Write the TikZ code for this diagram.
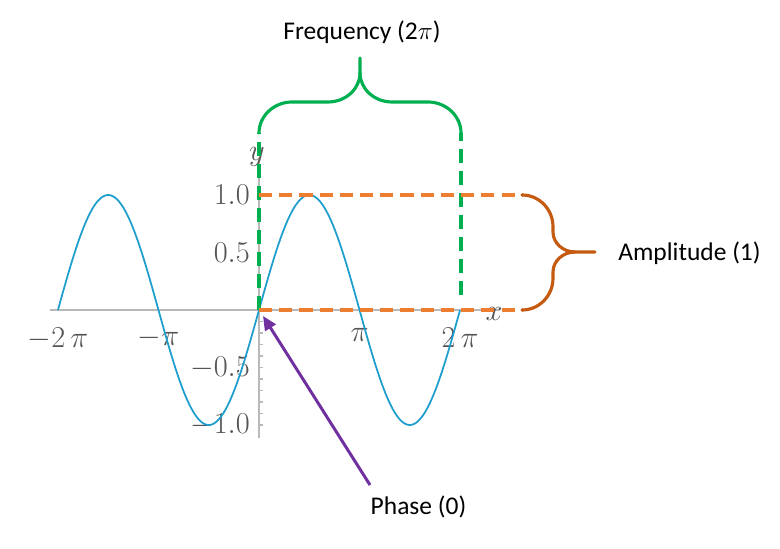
\documentclass[tikz,border=0pt]{standalone}
\usepackage{amssymb,amsmath}
\usepackage{fontspec}
\newfontfamily\callout{Carlito}
\usepackage{tikz}
\usetikzlibrary{arrows.meta}
\definecolor{sineblue}{RGB}{30,158,205}
\definecolor{freqgreen}{RGB}{0,176,80}
\definecolor{ampdash}{RGB}{237,125,49}
\definecolor{ampbrace}{RGB}{197,90,17}
\definecolor{phasepurple}{RGB}{112,48,160}
\definecolor{axisgray}{RGB}{185,185,185}
\definecolor{ticktext}{RGB}{85,85,85}
\tikzset{axisline/.style={axisgray, line width=1.1pt},
  ticklbl/.style={ticktext, font=\fontsize{16}{18}\selectfont, inner sep=1pt},
  callouttext/.style={font=\callout\fontsize{14.5}{17}\selectfont},
  freqline/.style={freqgreen, line width=2pt, dash pattern=on 8pt off 4.5pt},
  ampline/.style={ampdash, line width=1.8pt, dash pattern=on 7.5pt off 4pt},
  bracestyle/.style={line width=1.8pt, line cap=round}}

\begin{document}
\begin{tikzpicture}
\useasboundingbox (-5.18,-4.78) rectangle (10.42,6.2);
% axes
\coordinate (O) at (0,0);
\draw[axisline] (-4.18,0)--(4.82,0);
\draw[axisline] (0,-2.56)--(0,3.0);
\foreach \t in {-2.3,-2.07,...,-0.2} \draw[axisgray, line width=0.6pt] (0,\t)--(0.07,\t);
\node[ticklbl, anchor=east] at (-0.14,2.3) {$1.0$};
\node[ticklbl, anchor=east] at (-0.14,1.15) {$0.5$};
\node[ticklbl, anchor=east] at (-0.14,-1.15) {$-0.5$};
\node[ticklbl, anchor=east] at (-0.14,-2.3) {$-1.0$};
\node[ticklbl, anchor=north] at (-4.02,-0.32) {$-2\,\pi$};
\node[ticklbl, anchor=north] at (-2.01,-0.32) {$-\pi$};
\node[ticklbl, anchor=north] at (2.01,-0.32) {$\pi$};
\node[ticklbl, anchor=north] at (4.02,-0.32) {$2\,\pi$};
\node[ticklbl] (ylbl) at (-0.04,3.06) {$y$};
\node[ticklbl] (xlbl) at (4.7,-0.08) {$x$};
% sine
\draw[sineblue, line width=1pt] plot[domain=-2*pi:2*pi, samples=200] ({0.64*\x},{2.3*sin(\x r)});
% frequency
\coordinate (f1) at (0,3.54);
\coordinate (f2) at (4.04,3.54);
\draw[freqline] (O)--(f1);
\draw[freqline] (4.04,0.3)--(f2);
\draw[freqgreen, bracestyle] (f1) .. controls (0,3.88) and (0.30,4.16) .. (0.66,4.16)--(1.38,4.16)
  .. controls (1.73,4.16) and (2.02,4.42) .. (2.02,4.74)--(2.02,5.04);
\draw[freqgreen, bracestyle] (f2) .. controls (4.04,3.88) and (3.74,4.16) .. (3.38,4.16)--(2.66,4.16)
  .. controls (2.31,4.16) and (2.02,4.42) .. (2.02,4.74);
\node[callouttext] (freq) at (2.06,5.56) {Frequency (2$\pi$)};
% amplitude
\coordinate (a1) at (5.26,2.3);
\coordinate (a2) at (5.26,0);
\draw[ampline] (0,2.3)--(a1);
\draw[ampline] (O)--(a2);
\draw[ampbrace, bracestyle] (a1) .. controls (5.60,2.3) and (5.88,2.02) .. (5.88,1.66)--(5.88,1.56)
  .. controls (5.88,1.34) and (6.08,1.16) .. (6.32,1.16)--(6.72,1.16);
\draw[ampbrace, bracestyle] (a2) .. controls (5.60,0) and (5.88,0.28) .. (5.88,0.64)--(5.88,0.76)
  .. controls (5.88,0.98) and (6.08,1.16) .. (6.32,1.16);
\node[callouttext] (amp) at (8.61,1.14) {Amplitude (1)};
% phase
\node[callouttext] (phase) at (3.19,-3.94) {Phase (0)};
\draw[phasepurple, line width=1.7pt, -{Triangle[length=8pt,width=7pt]}] (2.22,-3.5)--(0.08,-0.12);
\end{tikzpicture}
\end{document}
